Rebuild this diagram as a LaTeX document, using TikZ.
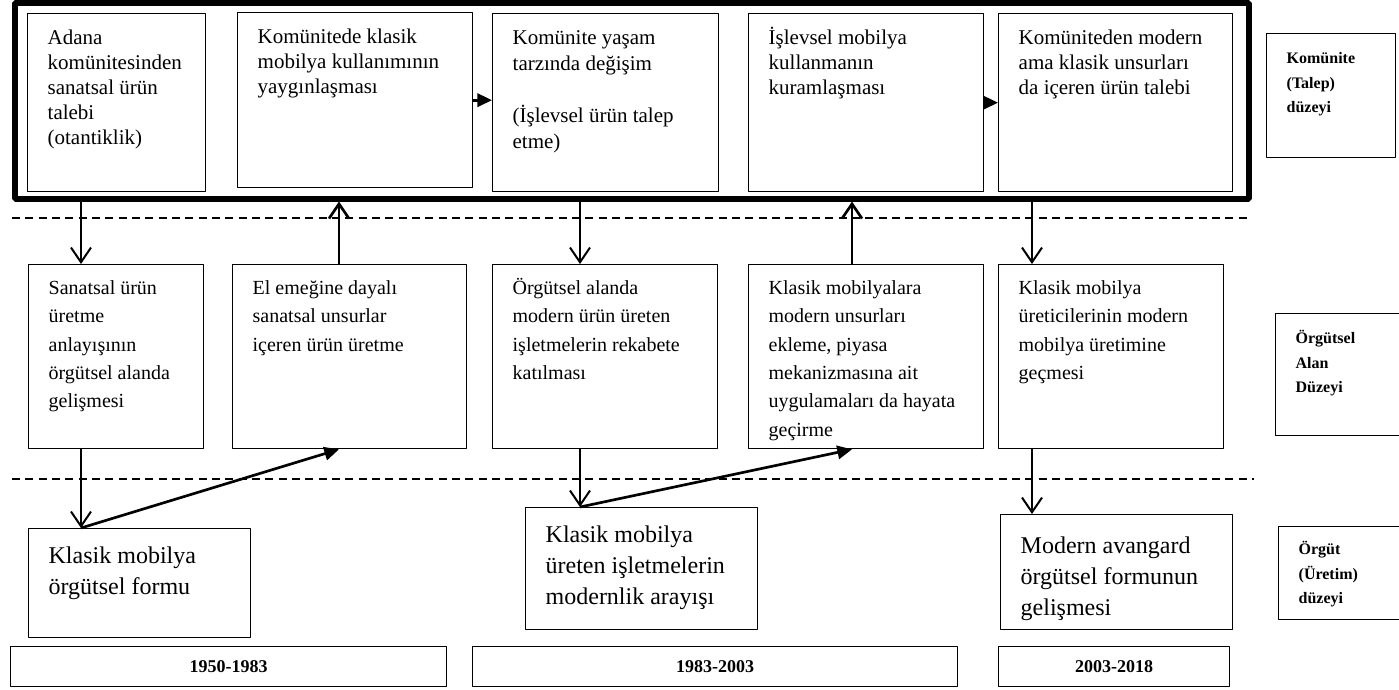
\documentclass[tikz,border=0pt]{standalone}
\usepackage{fontspec}
\setmainfont{Liberation Serif}
\usetikzlibrary{arrows.meta}
\usetikzlibrary{fit}

\begin{document}
\begin{tikzpicture}[x=0.75pt,y=-0.75pt,line join=bevel,
  kutu/.style={draw,line width=1pt,anchor=north west,align=flush left,inner xsep=15pt,inner ysep=0pt},
  ust/.style={kutu,font=\fontsize{15.75}{18.75}\selectfont,text height=23.25pt,text depth=110.25pt},
  orta/.style={kutu,font=\fontsize{15}{21.2}\selectfont,text height=22.5pt,text depth=115.5pt},
  alt/.style={kutu,font=\fontsize{18}{23}\selectfont,text height=26.25pt},
  duzey/.style={kutu,font=\fontsize{12}{18.4}\selectfont\bfseries,text height=22.5pt},
  yil/.style={draw,line width=1pt,anchor=north west,inner sep=0pt,minimum height=30pt,font=\fontsize{13.5}{16}\selectfont\bfseries},
  kesik/.style={line width=1.1pt,dash pattern=on 6pt off 4pt},
  asagi/.style={line width=1.5pt,-{Straight Barb[length=11pt,width=15pt]}},
  yukari/.style={line width=2pt,-{Straight Barb[length=11pt,width=15pt]}},
  capraz/.style={line width=2pt,-{Triangle[length=11pt,width=10pt]}},
]
\useasboundingbox (0,0) rectangle (1399,689);
%%
\node (kom_1) at (27,13) [ust,text width=103.5pt] {Adana\\ komünitesinden\\ sanatsal ürün\\ talebi\\ (otantiklik)};
  \node (kom_2) at (237,12) [ust,text width=146.25pt,text depth=108pt] {Komünitede klasik\\ mobilya kullanımının\\ yaygınlaşması};
  \node (kom_3) at (492,13) [ust,text width=139.5pt,font=\fontsize{15.75}{19.5}\selectfont] {Komünite yaşam\\ tarzında değişim\\[19.5pt] (İşlevsel ürün talep\\ etme)};
  \node (kom_4) at (748,13) [ust,text width=146.25pt] {İşlevsel mobilya\\ kullanmanın\\ kuramlaşması};
  \node (kom_5) at (998,13) [ust,text width=145.5pt] {Komüniteden modern\\ ama klasik unsurları\\ da içeren ürün talebi};
  \node (komunite) [fit={(14.5,3) (1248.5,198.5)},draw,line width=4.5pt,inner sep=0pt] {};
  \node (duzey_1) at (1266,33) [duzey,text width=66.75pt,text depth=70.5pt] {Komünite\\ (Talep)\\ düzeyi};
%
\node (alan_1) at (28,264) [orta,text width=101.25pt] {Sanatsal ürün\\ üretme\\ anlayışının\\ örgütsel alanda\\ gelişmesi};
  \node (alan_2) at (232,264) [orta,text width=145.5pt] {El emeğine dayalı\\ sanatsal unsurlar\\ içeren ürün üretme};
  \node (alan_3) at (492,264) [orta,text width=138.75pt] {Örgütsel alanda\\ modern ürün üreten\\ işletmelerin rekabete\\ katılması};
  \node (alan_4) at (748,264) [orta,text width=146.25pt] {Klasik mobilyalara\\ modern unsurları\\ ekleme, piyasa\\ mekanizmasına ait\\ uygulamaları da hayata\\ geçirme};
  \node (alan_5) at (998,264) [orta,text width=138.75pt] {Klasik mobilya\\ üreticilerinin modern\\ mobilya üretimine\\ geçmesi};
  \node (duzey_2) at (1275,313) [duzey,text width=65.25pt,text depth=69pt] {Örgütsel\\ Alan\\ Düzeyi};
%
\node (orgut_1) at (28,528) [alt,text width=136.5pt,text depth=55.5pt] {Klasik mobilya\\ örgütsel formu};
  \node (orgut_2) at (525,507) [alt,text width=144pt,text depth=65.25pt] {Klasik mobilya\\ üreten işletmelerin\\ modernlik arayışı};
  \node (orgut_3) at (1000,514) [alt,text width=144pt,text height=29.25pt,text depth=57pt] {Modern avangard\\ örgütsel formunun\\ gelişmesi};
  \node (duzey_3) at (1278,526) [duzey,text width=63pt,text height=21pt,text depth=48.75pt] {Örgüt\\ (Üretim)\\ düzeyi};
%
\node (yil_1) at (10,646) [yil,minimum width=327pt] {1950-1983};
  \node (yil_2) at (472,646) [yil,minimum width=363.75pt] {1983-2003};
  \node (yil_3) at (998,646) [yil,minimum width=173.25pt] {2003-2018};
%
\coordinate (s_1) at (81,0);
  \coordinate (s_2) at (339,0);
  \coordinate (s_3) at (580,0);
  \coordinate (s_4) at (852,0);
  \coordinate (s_5) at (1032,0);
  \draw [kesik] (12,218) -- (1250,218);
  \draw [kesik] (12,479) -- (1254,479);
  \draw [capraz] (kom_2.east) -- (kom_2.east -| kom_3.west);
  \draw [capraz] (kom_4.east) -- (kom_4.east -| kom_5.west);
  \draw [asagi] (komunite.south -| s_1) -- (alan_1.north -| s_1);
  \draw [yukari] (alan_2.north -| s_2) -- (komunite.south -| s_2);
  \draw [asagi] (komunite.south -| s_3) -- (alan_3.north -| s_3);
  \draw [yukari] (alan_4.north -| s_4) -- (komunite.south -| s_4);
  \draw [asagi] (komunite.south -| s_5) -- (alan_5.north -| s_5);
  \draw [asagi] (alan_1.south -| s_1) -- (orgut_1.north -| s_1);
  \draw [capraz] (orgut_1.north -| s_1) -- (alan_2.south -| s_2);
  \draw [asagi] (alan_3.south -| s_3) -- (orgut_2.north -| s_3);
  \draw [capraz] (orgut_2.north -| s_3) -- (alan_4.south -| s_4);
  \draw [asagi] (alan_5.south -| s_5) -- (orgut_3.north -| s_5);
%
\end{tikzpicture}
\end{document}
